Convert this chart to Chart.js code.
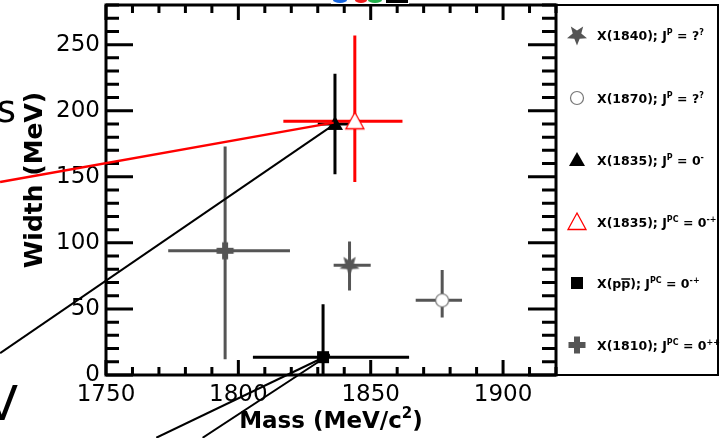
<!DOCTYPE html>
<html>
<head>
<meta charset="utf-8">
<script src="https://cdn.jsdelivr.net/npm/chart.js@4.4.1/dist/chart.umd.min.js"></script>
<style>
html, body { margin: 0; padding: 0; background: #fff; }
#wrap { width: 723px; height: 438px; }
</style>
</head>
<body>
<div id="wrap"><canvas id="myChart" width="723" height="438"></canvas></div>
<script>
// measured states: mass / width with asymmetric errors (MeV)
var names     = ["X(1840)", "X(1870)", "X(1835)", "X(1835)", "X(ppbar)", "X(1810)"];
var mass      = [1842, 1877, 1836.5, 1844, 1832, 1795];
var massLo    = [6, 10, 6.5, 27, 26.5, 21.5];
var massHi    = [8, 7.5, 6.5, 18, 32.5, 24.5];
var width     = [83, 56.5, 190, 192, 13.5, 94];
var widthLo   = [19, 13, 38, 46, 13.5, 82];
var widthHi   = [18, 23, 38, 65, 40, 79];
var colors    = ["#555555", "#555555", "#000000", "#ff0000", "#000000", "#555555"];
var markers   = ["star", "circle", "triangle", "openTriangle", "square", "cross"];

var xTicks = [1750, 1800, 1850, 1900];
var yTicks = [0, 50, 100, 150, 200, 250];

// slide arrows laid over the plot (data coordinates)
var arrowRedX    = [1710, 1836];
var arrowRedY    = [146, 191];
var arrowBlackX  = [1710, 1836.5];
var arrowBlackY  = [16.6, 190];
var arrowLow1X   = [1769, 1834.5];
var arrowLow1Y   = [-47.5, 15.5];
var arrowLow2X   = [1786.5, 1834.5];
var arrowLow2Y   = [-47.5, 15.5];

// legend text pieces: [text, superscript?, overline?]
var legendText = [
    [["X(1840); J", 0], ["P", 1], [" = ?", 0], ["?", 1]],
    [["X(1870); J", 0], ["P", 1], [" = ?", 0], ["?", 1]],
    [["X(1835); J", 0], ["P", 1], [" = 0", 0], ["-", 1]],
    [["X(1835); J", 0], ["PC", 1], [" = 0", 0], ["-+", 1]],
    [["X(p", 0], ["p", 0, 1], ["); J", 0], ["PC", 1], [" = 0", 0], ["-+", 1]],
    [["X(1810); J", 0], ["PC", 1], [" = 0", 0], ["++", 1]]
];

var FONT = "'DejaVu Sans', 'Liberation Sans', Arial, sans-serif";

function markerImage(kind, color) {
    var c = document.createElement('canvas');
    var s = 24;
    c.width = s; c.height = s;
    var g = c.getContext('2d');
    var m = s / 2;
    g.fillStyle = color;
    g.strokeStyle = color;
    if (kind === 'star') {
        g.beginPath();
        for (var k = 0; k < 10; k++) {
            var r = (k % 2 === 0) ? 10.5 : 4.5;
            var a = Math.PI / 2 + k * Math.PI / 5;
            g.lineTo(m + r * Math.cos(a), m + r * Math.sin(a));
        }
        g.closePath();
        g.fill();
    } else if (kind === 'circle') {
        g.beginPath();
        g.arc(m, m, 6.5, 0, Math.PI * 2);
        g.fillStyle = '#fff';
        g.fill();
        g.lineWidth = 1.2;
        g.strokeStyle = '#777';
        g.stroke();
    } else if (kind === 'triangle') {
        g.beginPath();
        g.moveTo(m, m - 8);
        g.lineTo(m + 8, m + 6);
        g.lineTo(m - 8, m + 6);
        g.closePath();
        g.fill();
    } else if (kind === 'openTriangle') {
        g.beginPath();
        g.moveTo(m, m - 9);
        g.lineTo(m + 9, m + 7.5);
        g.lineTo(m - 9, m + 7.5);
        g.closePath();
        g.fillStyle = '#fff';
        g.fill();
        g.lineWidth = 1.3;
        g.stroke();
    } else if (kind === 'square') {
        g.fillRect(m - 6, m - 6, 12, 12);
    } else if (kind === 'cross') {
        g.fillRect(m - 8.5, m - 3, 17, 6);
        g.fillRect(m - 3, m - 8.5, 6, 17);
    }
    return c;
}

var images = markers.map(function (k, i) { return markerImage(k, colors[i]); });

var datasets = [];
function arrow(xs, ys, color, lw) {
    datasets.push({
        type: 'line',
        data: [{ x: xs[0], y: ys[0] }, { x: xs[1], y: ys[1] }],
        borderColor: color,
        borderWidth: lw,
        pointRadius: 0,
        clip: false,
        order: 0
    });
}
arrow(arrowRedX, arrowRedY, '#ff0000', 2.5);
arrow(arrowBlackX, arrowBlackY, '#000000', 2);
arrow(arrowLow1X, arrowLow1Y, '#000000', 2);
arrow(arrowLow2X, arrowLow2Y, '#000000', 2);

for (var i = 0; i < names.length; i++) {
    datasets.push({
        type: 'scatter',
        label: names[i],
        data: [{ x: mass[i], y: width[i] }],
        pointStyle: images[i],
        pointRadius: 8,
        clip: false,
        order: 1
    });
}

// frame, ROOT style inner ticks, y labels and error bars
var underlay = {
    id: 'underlay',
    beforeDatasetsDraw: function (chart) {
        var ctx = chart.ctx, a = chart.chartArea;
        var xs = chart.scales.x, ys = chart.scales.y;
        ctx.save();

        // error bars
        ctx.lineWidth = 3;
        for (var i = 0; i < mass.length; i++) {
            var px = xs.getPixelForValue(mass[i]);
            var py = ys.getPixelForValue(width[i]);
            ctx.strokeStyle = colors[i];
            ctx.beginPath();
            ctx.moveTo(xs.getPixelForValue(mass[i] - massLo[i]), py);
            ctx.lineTo(xs.getPixelForValue(mass[i] + massHi[i]), py);
            ctx.moveTo(px, ys.getPixelForValue(width[i] - widthLo[i]));
            ctx.lineTo(px, ys.getPixelForValue(width[i] + widthHi[i]));
            ctx.stroke();
        }

        // ticks
        ctx.strokeStyle = '#000';
        ctx.lineWidth = 3;
        ctx.beginPath();
        for (var v = xs.min; v <= xs.max; v += 10) {
            var x = xs.getPixelForValue(v);
            var len = (v % 50 === 0) ? 15 : 8;
            ctx.moveTo(x, a.bottom); ctx.lineTo(x, a.bottom - len);
            ctx.moveTo(x, a.top); ctx.lineTo(x, a.top + len);
        }
        for (var w = ys.min; w <= ys.max; w += 10) {
            var y = ys.getPixelForValue(w);
            var major = (w % 50 === 0);
            ctx.moveTo(a.left, y); ctx.lineTo(a.left + (major ? 27 : 13), y);
            ctx.moveTo(a.right, y); ctx.lineTo(a.right - (major ? 28 : 14), y);
        }
        ctx.stroke();
        ctx.strokeRect(a.left, a.top, a.right - a.left, a.bottom - a.top);

        // y tick labels
        ctx.fillStyle = '#000';
        ctx.font = '23px ' + FONT;
        ctx.textAlign = 'right';
        ctx.textBaseline = 'middle';
        for (var j = 0; j < yTicks.length; j++) {
            ctx.fillText(String(yTicks[j]), a.left - 6, ys.getPixelForValue(yTicks[j]));
        }
        ctx.restore();
    }
};

function drawRich(ctx, parts, x, y, size) {
    var sup = Math.round(size * 0.64);
    for (var k = 0; k < parts.length; k++) {
        var p = parts[k];
        var fs = p[1] ? sup : size;
        ctx.font = 'bold ' + fs + 'px ' + FONT;
        var yy = p[1] ? y - size * 0.42 : y;
        ctx.fillText(p[0], x, yy);
        var tw = ctx.measureText(p[0]).width;
        if (p[2]) {
            ctx.fillRect(x, y - size * 0.78, tw, 1.5);
        }
        x += tw;
    }
}

var overlay = {
    id: 'overlay',
    afterDraw: function (chart) {
        var ctx = chart.ctx, a = chart.chartArea;
        ctx.save();
        ctx.fillStyle = '#000';
        ctx.textBaseline = 'alphabetic';

        // axis titles
        ctx.font = 'bold 23px ' + FONT;
        var t1 = 'Mass (MeV/c', t2 = '2', t3 = ')';
        var w1 = ctx.measureText(t1).width, w3 = ctx.measureText(t3).width;
        ctx.font = 'bold 15px ' + FONT;
        var w2 = ctx.measureText(t2).width;
        var x0 = (a.left + a.right) / 2 - (w1 + w2 + w3) / 2;
        ctx.font = 'bold 23px ' + FONT;
        ctx.fillText(t1, x0, 428);
        ctx.fillText(t3, x0 + w1 + w2, 428);
        ctx.font = 'bold 15px ' + FONT;
        ctx.fillText(t2, x0 + w1, 418);

        ctx.save();
        ctx.translate(42, 180);
        ctx.rotate(-Math.PI / 2);
        ctx.font = 'bold 25px ' + FONT;
        ctx.textAlign = 'center';
        ctx.fillText('Width (MeV)', 0, 0);
        ctx.restore();

        // legend
        var lx = a.right, ly = a.top, lr = 718;
        ctx.lineWidth = 2;
        ctx.strokeStyle = '#000';
        ctx.strokeRect(lx, ly, lr - lx, a.bottom - ly);
        var rowY = [35, 98, 160, 222, 283, 345];
        for (var i = 0; i < legendText.length; i++) {
            var img = images[i];
            ctx.drawImage(img, 577 - img.width / 2, rowY[i] - img.height / 2);
            drawRich(ctx, legendText[i], 597, rowY[i] + 5, 12.5);
        }

        // slide remnants around the plot
        ctx.font = '37px ' + FONT;
        ctx.textAlign = 'right';
        ctx.fillText('s', 16, 122);
        ctx.font = '48px ' + FONT;
        ctx.fillText('V', 18, 420);

        ctx.fillStyle = '#fff';
        ctx.fillRect(331, 0, 78, 4);
        ctx.fillStyle = '#1565e0';
        ctx.beginPath(); ctx.ellipse(340, 0, 7, 3, 0, 0, Math.PI); ctx.fill();
        ctx.fillStyle = '#ee1c1c';
        ctx.beginPath(); ctx.ellipse(361, 0, 6, 3, 0, 0, Math.PI); ctx.fill();
        ctx.fillStyle = '#22b14c';
        ctx.beginPath(); ctx.ellipse(375, 0, 7, 3, 0, 0, Math.PI); ctx.fill();
        ctx.fillStyle = '#000';
        ctx.fillRect(386, 0, 22, 3);
        ctx.restore();
    }
};

var ctx = document.getElementById('myChart').getContext('2d');
var myChart = new Chart(ctx, {
    data: { datasets: datasets },
    options: {
        responsive: false,
        animation: false,
        events: [],
        layout: { autoPadding: false, padding: { left: 0, right: 167, top: 5, bottom: 0 } },
        plugins: { legend: { display: false }, tooltip: { enabled: false } },
        scales: {
            x: {
                type: 'linear',
                min: 1750,
                max: 1920,
                afterBuildTicks: function (s) { s.ticks = xTicks.map(function (v) { return { value: v }; }); },
                afterFit: function (s) { s.height = 63; s.paddingLeft = 0; s.paddingRight = 0; },
                grid: { display: false, drawTicks: false },
                border: { display: false },
                ticks: {
                    font: { family: FONT, size: 23 },
                    color: '#000',
                    padding: 6,
                    maxRotation: 0,
                    autoSkip: false,
                    callback: function (v) { return String(v); }
                }
            },
            y: {
                type: 'linear',
                min: 0,
                max: 280,
                afterFit: function (s) { s.width = 106; s.paddingTop = 0; s.paddingBottom = 0; },
                grid: { display: false, drawTicks: false },
                border: { display: false },
                ticks: { display: false }
            }
        }
    },
    plugins: [underlay, overlay]
});
</script>
</body>
</html>
